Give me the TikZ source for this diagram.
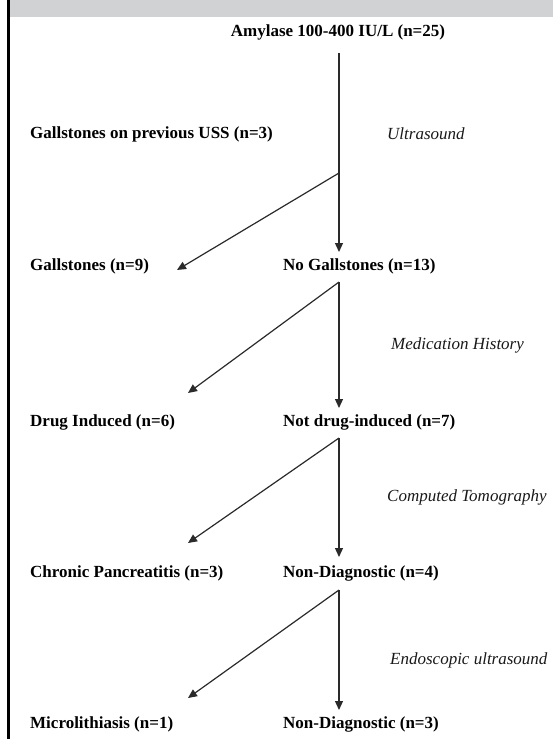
\documentclass[tikz,border=0pt]{standalone}
\usepackage{fontspec}
\setmainfont{Liberation Serif}
\usetikzlibrary{arrows.meta}
\definecolor{band}{HTML}{D1D2D4}
\definecolor{ln}{HTML}{2A2A2A}
\tikzset{
  lbl/.style={font=\fontsize{17}{20}\selectfont\bfseries, inner sep=0pt, anchor=west, text=black},
  stepname/.style={font=\fontsize{17}{20}\selectfont\itshape, inner sep=0pt, anchor=west, text=black!90},
  arr/.style={draw=ln, line width=1.2pt, -{Triangle[length=9pt,width=8pt]}}
}
\begin{document}
\begin{tikzpicture}[x=1pt,y=-1pt]
\useasboundingbox (0,0) rectangle (553,739);
\fill[band] (9,0) rectangle (553,17);
\fill[black] (6.5,0) rectangle (9.5,739);

\node[lbl, anchor=center] (amy) at (338,32) {Amylase 100-400 IU/L (n=25)};
\node[lbl] (prev) at (30,134) {Gallstones on previous USS (n=3)};
\node[stepname] (us) at (387,134) {Ultrasound};
\node[lbl] (gall) at (30,266) {Gallstones (n=9)};
\node[lbl] (nogall) at (283,266) {No Gallstones (n=13)};
\node[stepname] (med) at (391,345) {Medication History};
\node[lbl] (drug) at (30,422) {Drug Induced (n=6)};
\node[lbl] (notdrug) at (283,422) {Not drug-induced (n=7)};
\node[stepname] (ct) at (387,497) {Computed Tomography};
\node[lbl] (chron) at (30,573) {Chronic Pancreatitis (n=3)};
\node[lbl] (nond4) at (283,573) {Non-Diagnostic (n=4)};
\node[stepname] (eus) at (390,660) {Endoscopic ultrasound};
\node[lbl] (micro) at (30,724) {Microlithiasis (n=1)};
\node[lbl] (nond3) at (283,724) {Non-Diagnostic (n=3)};

\coordinate (v0) at (339,53);
\coordinate (b1) at (339,173);
\coordinate (e1) at (339,252);
\coordinate (t1) at (177,270);
\coordinate (b2) at (339,282);
\coordinate (e2) at (339,408);
\coordinate (t2) at (188,393);
\coordinate (b3) at (339,438);
\coordinate (e3) at (339,557);
\coordinate (t3) at (188,543);
\coordinate (b4) at (339,590);
\coordinate (e4) at (339,710);
\coordinate (t4) at (188,698);

\draw[arr] (v0) -- (e1);
\draw[arr] (b1) -- (t1);
\draw[arr] (b2) -- (e2);
\draw[arr] (b2) -- (t2);
\draw[arr] (b3) -- (e3);
\draw[arr] (b3) -- (t3);
\draw[arr] (b4) -- (e4);
\draw[arr] (b4) -- (t4);
\end{tikzpicture}
\end{document}
